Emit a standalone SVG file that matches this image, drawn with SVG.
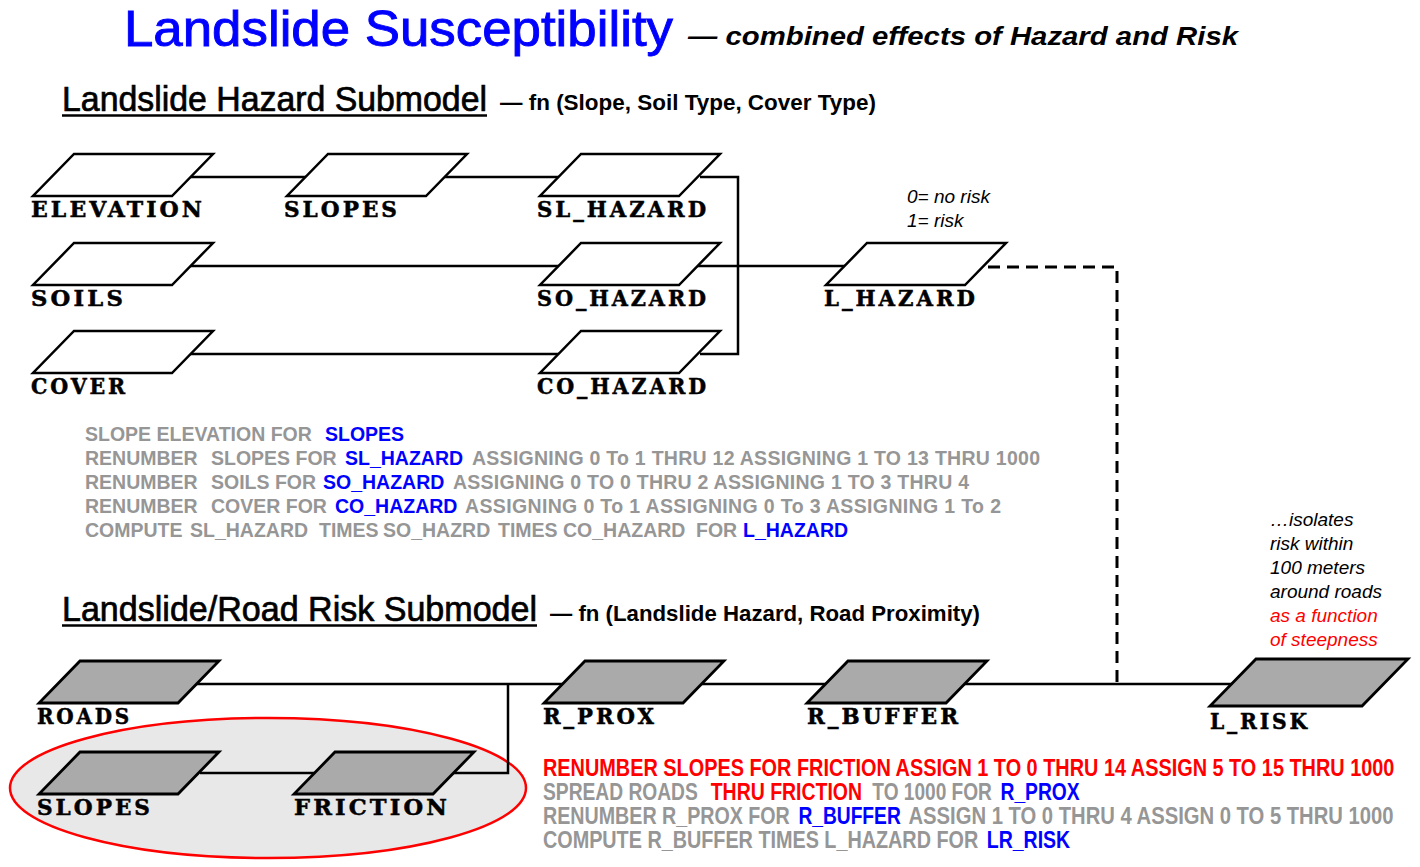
<svg xmlns="http://www.w3.org/2000/svg" width="1420" height="867" viewBox="0 0 1420 867">
<style>
.lbl{font-family:"DejaVu Serif","Liberation Serif",serif;font-weight:bold;font-size:21.5px;letter-spacing:3px;fill:#000;stroke:#000;stroke-width:0.5}
.pw{fill:#fff;stroke:#000;stroke-width:2.5;stroke-linejoin:miter}
.pg{fill:#aaaaaa;stroke:#000;stroke-width:2.8;stroke-linejoin:miter}
.conn{fill:none;stroke:#000;stroke-width:2.5}
.dash{fill:none;stroke:#000;stroke-width:3;stroke-dasharray:12 7}
.code{font-family:"Liberation Sans",Arial,sans-serif;font-weight:bold;font-size:19.5px;fill:#969696}
.code2{font-family:"Liberation Sans",Arial,sans-serif;font-weight:bold;font-size:23px;fill:#969696}
.b{fill:#0000ff}
.r{fill:#ff0000}
.head{font-family:"Liberation Sans",Arial,sans-serif;font-size:35px;fill:#000;stroke:#000;stroke-width:0.7}
.fn{font-family:"Liberation Sans",Arial,sans-serif;font-weight:bold;font-size:22px;fill:#000}
.note{font-family:"Liberation Sans",Arial,sans-serif;font-style:italic;font-size:19px;fill:#000}
.note.r{fill:#ff0000}
</style>
<defs>
<path id="pw" d="M0 0 H139 L98 42 H-41 Z"/>
</defs>
<rect width="1420" height="867" fill="#fff"/>

<!-- Titles -->
<text x="124" y="46" font-family="Liberation Sans,Arial,sans-serif" font-size="50" fill="#0000ff" stroke="#0000ff" stroke-width="0.9" textLength="549" lengthAdjust="spacingAndGlyphs">Landslide Susceptibility</text>
<text x="688" y="45" font-family="Liberation Sans,Arial,sans-serif" font-size="26" font-weight="bold" font-style="italic" fill="#000" textLength="550" lengthAdjust="spacingAndGlyphs">— combined effects of Hazard and Risk</text>

<text class="head" x="62" y="111" textLength="425" lengthAdjust="spacingAndGlyphs">Landslide Hazard Submodel</text>
<line x1="62" y1="115.5" x2="487" y2="115.5" stroke="#000" stroke-width="2.5"/>
<text class="fn" x="500" y="110" textLength="376" lengthAdjust="spacingAndGlyphs">— fn (Slope, Soil Type, Cover Type)</text>

<text class="head" x="62" y="621" textLength="475" lengthAdjust="spacingAndGlyphs">Landslide/Road Risk Submodel</text>
<line x1="62" y1="625.5" x2="537" y2="625.5" stroke="#000" stroke-width="2.5"/>
<text class="fn" x="550" y="621" textLength="430" lengthAdjust="spacingAndGlyphs">— fn (Landslide  Hazard, Road Proximity)</text>

<!-- Ellipse highlight -->
<ellipse cx="268" cy="788" rx="258" ry="70" fill="#e8e8e8" stroke="#ff0000" stroke-width="2.5"/>

<!-- Connectors -->
<g id="connectors">
<path class="conn" d="M190 177 H310"/>
<path class="conn" d="M444 177 H630"/>
<path class="conn" d="M700 177 H738 V354 H700"/>
<path class="conn" d="M190 266 H900"/>
<path class="conn" d="M190 354 H640"/>
<path class="dash" d="M988 267 H1117 V684"/>
<path class="conn" d="M150 684 H1240"/>
<path class="conn" d="M200 773 H320"/>
<path class="conn" d="M452 773 H508 V684"/>
</g>

<!-- Hazard submodel nodes -->
<g id="elevation"><use href="#pw" x="74" y="154" class="pw"/><text class="lbl" x="31" y="217" textLength="174" lengthAdjust="spacingAndGlyphs">ELEVATION</text></g>
<g id="slopes"><use href="#pw" x="328" y="154" class="pw"/><text class="lbl" x="284" y="217" textLength="116" lengthAdjust="spacingAndGlyphs">SLOPES</text></g>
<g id="sl_hazard"><use href="#pw" x="581" y="154" class="pw"/><text class="lbl" x="537" y="217" textLength="172" lengthAdjust="spacingAndGlyphs">SL_HAZARD</text></g>
<g id="soils"><use href="#pw" x="74" y="243" class="pw"/><text class="lbl" x="31" y="306" textLength="95" lengthAdjust="spacingAndGlyphs">SOILS</text></g>
<g id="so_hazard"><use href="#pw" x="581" y="243" class="pw"/><text class="lbl" x="537" y="306" textLength="172" lengthAdjust="spacingAndGlyphs">SO_HAZARD</text></g>
<g id="cover"><use href="#pw" x="74" y="331" class="pw"/><text class="lbl" x="31" y="394" textLength="97" lengthAdjust="spacingAndGlyphs">COVER</text></g>
<g id="co_hazard"><use href="#pw" x="581" y="331" class="pw"/><text class="lbl" x="537" y="394" textLength="172" lengthAdjust="spacingAndGlyphs">CO_HAZARD</text></g>
<g id="l_hazard"><use href="#pw" x="867" y="243" class="pw"/><text class="lbl" x="824" y="306" textLength="154" lengthAdjust="spacingAndGlyphs">L_HAZARD</text>
<text class="note" x="907" y="203" font-size="18">0= no risk</text>
<text class="note" x="907" y="227" font-size="18">1= risk</text></g>

<!-- Hazard code -->
<g id="hazard-code">
<text class="code" y="441"><tspan x="85">SLOPE ELEVATION FOR</tspan><tspan x="325" class="b">SLOPES</tspan></text>
<text class="code" y="465"><tspan x="85">RENUMBER</tspan><tspan x="211">SLOPES FOR</tspan><tspan x="345" class="b">SL_HAZARD</tspan></text>
<text class="code" x="472" y="465" textLength="568" lengthAdjust="spacing">ASSIGNING 0 To 1 THRU 12 ASSIGNING 1 TO 13 THRU 1000</text>
<text class="code" y="489"><tspan x="85">RENUMBER</tspan><tspan x="211">SOILS FOR</tspan><tspan x="323" class="b">SO_HAZARD</tspan></text>
<text class="code" x="453" y="489" textLength="516" lengthAdjust="spacing">ASSIGNING 0 TO 0 THRU 2 ASSIGNING 1 TO 3 THRU 4</text>
<text class="code" y="513"><tspan x="85">RENUMBER</tspan><tspan x="211">COVER FOR</tspan><tspan x="335" class="b">CO_HAZARD</tspan></text>
<text class="code" x="465" y="513" textLength="536" lengthAdjust="spacing">ASSIGNING 0 To 1 ASSIGNING 0 To 3 ASSIGNING 1 To 2</text>
<text class="code" y="537"><tspan x="85">COMPUTE</tspan><tspan x="190">SL_HAZARD</tspan><tspan x="319">TIMES</tspan><tspan x="383">SO_HAZRD</tspan><tspan x="498">TIMES</tspan><tspan x="563">CO_HAZARD</tspan><tspan x="696">FOR</tspan><tspan x="743" class="b">L_HAZARD</tspan></text>
</g>

<!-- Road risk nodes -->
<g id="roads"><use href="#pw" x="80" y="661" class="pg"/><text class="lbl" x="37" y="724" textLength="95" lengthAdjust="spacingAndGlyphs">ROADS</text></g>
<g id="slopes2"><use href="#pw" x="80" y="752" class="pg"/><text class="lbl" x="37" y="815" textLength="116" lengthAdjust="spacingAndGlyphs">SLOPES</text></g>
<g id="friction"><use href="#pw" x="335" y="752" class="pg"/><text class="lbl" x="294" y="815" textLength="156" lengthAdjust="spacingAndGlyphs">FRICTION</text></g>
<g id="r_prox"><use href="#pw" x="585" y="661" class="pg"/><text class="lbl" x="543" y="724" textLength="114" lengthAdjust="spacingAndGlyphs">R_PROX</text></g>
<g id="r_buffer"><use href="#pw" x="848" y="661" class="pg"/><text class="lbl" x="807" y="724" textLength="154" lengthAdjust="spacingAndGlyphs">R_BUFFER</text></g>
<g id="l_risk"><path class="pg" d="M1256 659 H1408 L1362 706 H1210 Z"/><text class="lbl" x="1210" y="729" textLength="100" lengthAdjust="spacingAndGlyphs">L_RISK</text></g>

<!-- Annotation -->
<g id="annotation">
<text class="note" x="1270" y="526">…isolates</text>
<text class="note" x="1270" y="550">risk within</text>
<text class="note" x="1270" y="574">100 meters</text>
<text class="note" x="1270" y="598">around roads</text>
<text class="note r" x="1270" y="622">as a function</text>
<text class="note r" x="1270" y="646">of steepness</text>
</g>

<!-- Road code (condensed) -->
<g id="road-code" transform="translate(543 0) scale(0.86 1)">
<text class="code2 r" x="0" y="776" textLength="990" lengthAdjust="spacingAndGlyphs">RENUMBER SLOPES FOR FRICTION ASSIGN 1 TO 0 THRU 14 ASSIGN 5 TO 15 THRU 1000</text>
<text class="code2" x="0" y="800" textLength="180" lengthAdjust="spacingAndGlyphs">SPREAD ROADS</text>
<text class="code2 r" x="195" y="800" textLength="176" lengthAdjust="spacingAndGlyphs">THRU FRICTION</text>
<text class="code2" x="383" y="800" textLength="139" lengthAdjust="spacingAndGlyphs">TO 1000 FOR</text>
<text class="code2 b" x="532" y="800" textLength="92" lengthAdjust="spacingAndGlyphs">R_PROX</text>
<text class="code2" x="0" y="824" textLength="287" lengthAdjust="spacingAndGlyphs">RENUMBER R_PROX FOR</text>
<text class="code2 b" x="297" y="824" textLength="119" lengthAdjust="spacingAndGlyphs">R_BUFFER</text>
<text class="code2" x="425" y="824" textLength="564" lengthAdjust="spacingAndGlyphs">ASSIGN 1 TO 0 THRU 4  ASSIGN 0 TO 5 THRU 1000</text>
<text class="code2" x="0" y="848" textLength="506" lengthAdjust="spacingAndGlyphs">COMPUTE R_BUFFER  TIMES L_HAZARD  FOR</text>
<text class="code2 b" x="516" y="848" textLength="97" lengthAdjust="spacingAndGlyphs">LR_RISK</text>
</g>
</svg>
